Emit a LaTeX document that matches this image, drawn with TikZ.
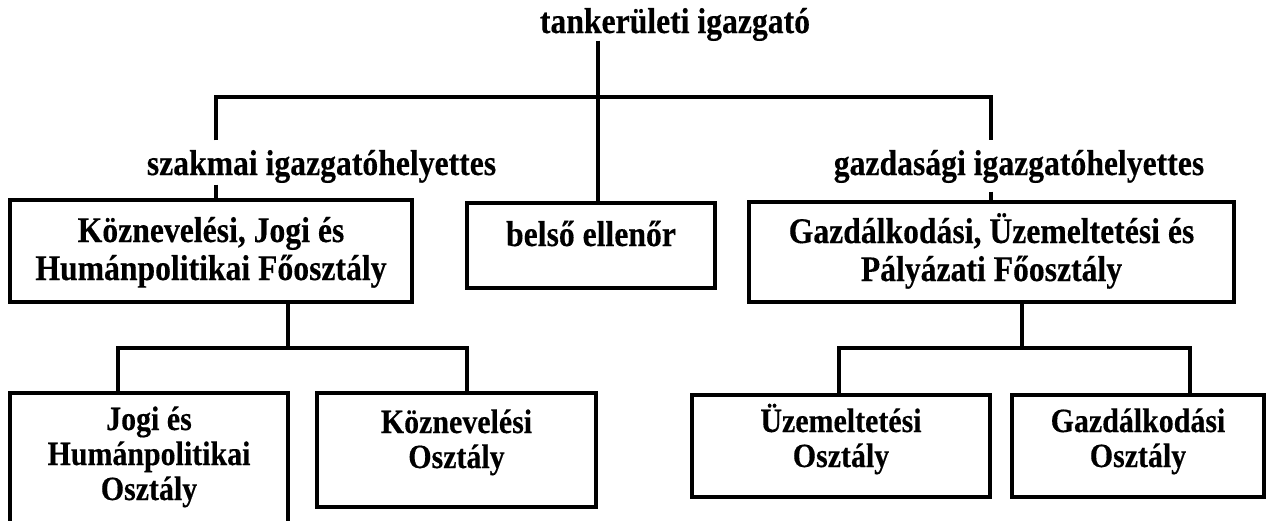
\documentclass[tikz,border=0pt]{standalone}
\usepackage{fontspec}
\setmainfont{Liberation Serif}
\newfontfamily\orgfont{Liberation Serif}[FakeStretch=0.88,FakeBold=0.3]
\tikzset{
	unit/.style={draw,line width=3.2pt,align=center,inner sep=0pt,font=\orgfont\bfseries\fontsize{36}{38}\selectfont},
	subunit/.style={draw,line width=3.2pt,align=center,inner sep=0pt,font=\orgfont\bfseries\fontsize{34}{35}\selectfont},
	rank/.style={inner sep=0pt,text height=33pt,text depth=8pt,anchor=base,font=\orgfont\bfseries\fontsize{36}{38}\selectfont}
}
\begin{document}
\begin{tikzpicture}[x=1pt,y=-1pt,line width=3.2pt]
					\useasboundingbox (0,0) rectangle (1267,520);
					\clip (0,0) rectangle (1267,520);
					\node[rank,text height=22pt,text depth=6pt] (top) at (675,33) {tankerületi igazgató};
					\node[rank] (szh) at (321.5,175) {szakmai igazgatóhelyettes};
					\node[rank,text depth=15pt] (gih) at (1019,175) {gazdasági igazgatóhelyettes};
					\node[unit,minimum width=402pt,minimum height=102pt,text height=64pt,text depth=6pt] (kjh) at (211,251) {Köznevelési, Jogi és\\Humánpolitikai Főosztály};
					\node[unit,minimum width=248pt,minimum height=85pt,text height=22pt,text depth=21pt] (bel) at (591,245.5) {belső ellenőr};
					\node[unit,minimum width=485pt,minimum height=100pt,text height=64pt,text depth=6pt] (gup) at (991.5,252) {Gazdálkodási, Üzemeltetési és\\Pályázati Főosztály};
					\node[subunit,minimum width=278pt,minimum height=147pt,text height=90pt,text depth=23pt] (jho) at (149,466.5) {Jogi és\\Humánpolitikai\\Osztály};
					\node[subunit,minimum width=279pt,minimum height=114pt,text height=57pt,text depth=21pt] (kno) at (456.5,450) {Köznevelési\\Osztály};
					\node[subunit,minimum width=298pt,minimum height=102pt,text height=56pt,text depth=14pt] (uzo) at (841,446) {Üzemeltetési\\Osztály};
					\node[subunit,minimum width=252pt,minimum height=102pt,text height=56pt,text depth=14pt] (gzo) at (1138,446) {Gazdálkodási\\Osztály};
					\coordinate (trunk) at (598,97);
					\coordinate (lj) at (216,97);
					\coordinate (rj) at (991,97);
					\draw (top.south -| trunk) -- (bel.north -| trunk);
					\draw (szh.north -| lj) -- (lj) -- (rj) -- (gih.north -| rj);
					\draw (szh.south -| lj) -- (kjh.north -| lj);
					\draw (gih.south -| rj) -- (gup.north -| rj);
					% osztalyok
					\coordinate (ls) at (288,348);
					\coordinate (la) at (118,348);
					\coordinate (lb) at (467,348);
					\draw (kjh.south -| ls) -- (ls);
					\draw (jho.north -| la) -- (la) -- (lb) -- (kno.north -| lb);
					\coordinate (rs) at (1022,348);
					\coordinate (ra) at (839,348);
					\coordinate (rb) at (1190,348);
					\draw (gup.south -| rs) -- (rs);
					\draw (uzo.north -| ra) -- (ra) -- (rb) -- (gzo.north -| rb);
				\end{tikzpicture}
\end{document}
